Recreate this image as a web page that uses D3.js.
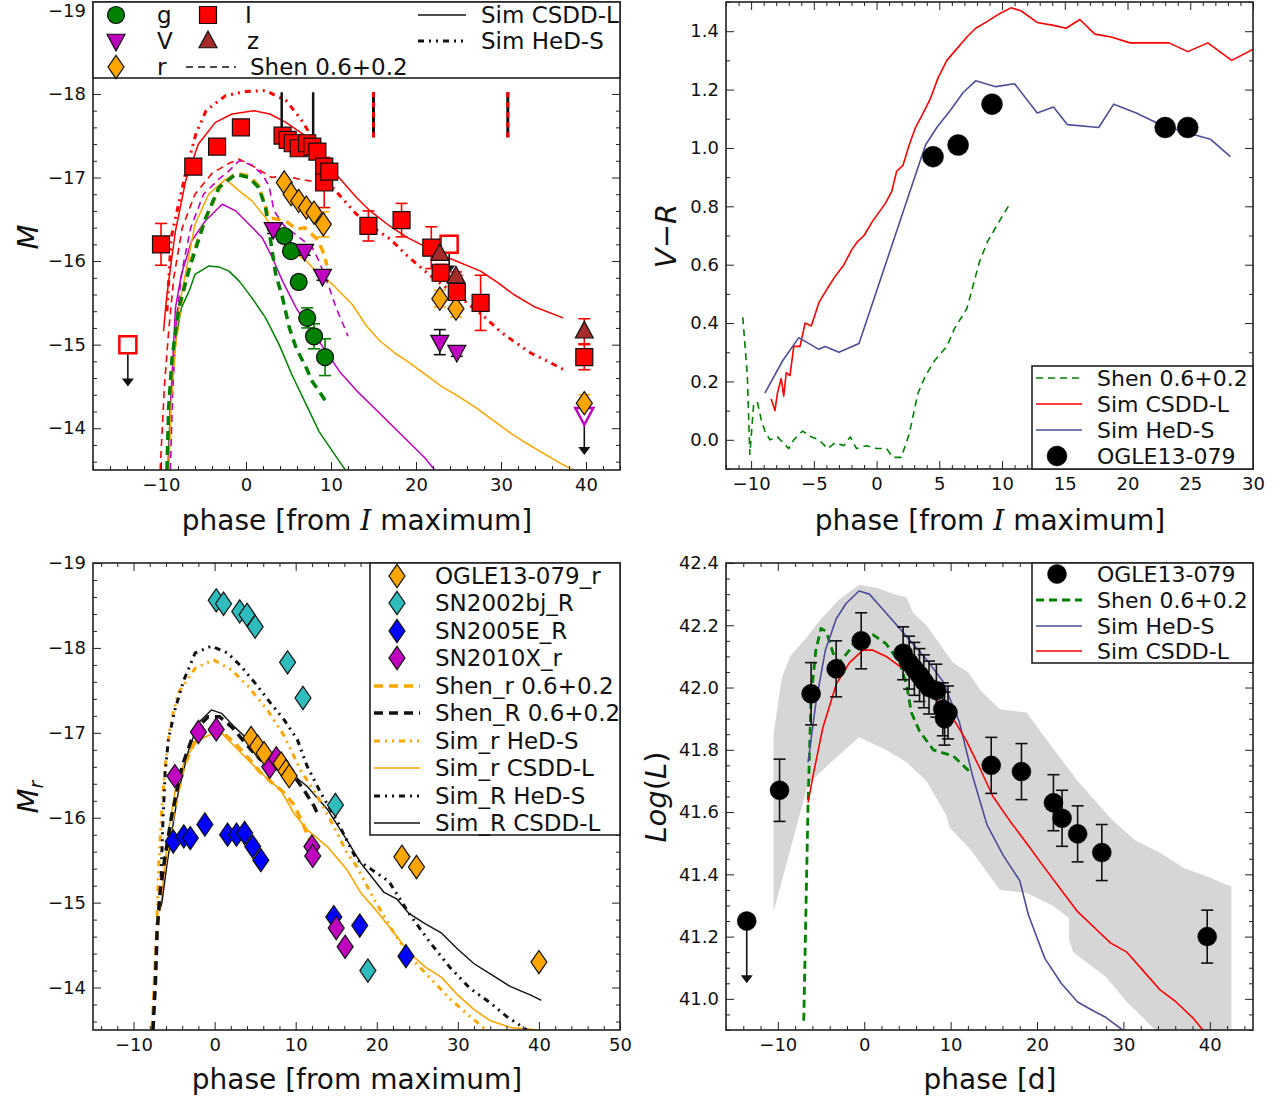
<!DOCTYPE html>
<html><head><meta charset="utf-8">
<script src="https://cdn.jsdelivr.net/npm/d3@7"></script>
<style>
body{margin:0;background:#fff}
text{font-family:"DejaVu Sans",sans-serif;fill:#111}
</style></head>
<body><svg id="c" width="1287" height="1099"></svg>
<script>
// ================= DATA =================
// ---- Top-left: light curves (phase, M, err) ----
const tlI = [[-10,-16.2,0.25],[-6.2,-17.13,0],[-3.4,-17.37,0],[-0.6,-17.6,0],[4.3,-17.5,0],[4.9,-17.45,0],[5.5,-17.41,0],[6.2,-17.35,0],[7.2,-17.41,0],[7.8,-17.37,0],[8.4,-17.31,0],[9.2,-17.13,0],[9.2,-16.94,0.3],[9.8,-17.07,0],[14.4,-16.42,0.18],[18.3,-16.49,0.2],[21.8,-16.16,0.25],[22.9,-15.86,0.1],[24.8,-15.63,0.2],[27.6,-15.5,0.33],[39.8,-14.85,0.15]];
const tlIlim = [[-13.9,-15.0,-14.5],[23.9,-16.2,-15.85]];
const tlZ = [[22.8,-16.09,0.05],[24.7,-15.82,0.05],[39.8,-15.16,0.15]];
const tlV = [[3.2,-16.38,0.05],[6.9,-16.12,0.05],[9.0,-15.82,0.05],[22.8,-15.03,0.15],[24.8,-14.91,0.05]];
const tlVlim = [[39.8,-14.16,-13.68]];
const tlG = [[4.5,-16.3,0],[5.3,-16.12,0],[6.2,-15.75,0],[7.2,-15.32,0.12],[8.0,-15.1,0.15],[9.3,-14.85,0.22]];
const tlR = [[4.5,-16.94,0],[5.3,-16.8,0],[6.2,-16.72,0],[7.1,-16.64,0],[8.0,-16.58,0],[9.1,-16.44,0.15],[22.8,-15.55,0.1],[24.7,-15.43,0.1],[39.8,-14.3,0.1]];
const tlSpecSolid = [4.2, 7.9];
const tlSpecDash = [15.0, 30.8];
const tlSimCsddI = [[-9.7,-15.16],[-9.4,-15.5],[-9.1,-15.76],[-8.3,-16.36],[-7.1,-16.96],[-5.6,-17.4],[-3.6,-17.66],[-1.65,-17.76],[0.9,-17.8],[2.8,-17.76],[4.7,-17.66],[6.7,-17.52],[9,-17.31],[10.6,-17.04],[13,-16.76],[14.6,-16.6],[16.9,-16.42],[19,-16.28],[21.3,-16.16],[24,-16.03],[27.6,-15.88],[29.5,-15.75],[31.5,-15.6],[34,-15.45],[37.3,-15.32]];
const tlHedsI = [[-9.3,-15.4],[-8.8,-16.28],[-8.2,-16.56],[-7,-17.1],[-5.9,-17.52],[-4.7,-17.8],[-2.4,-17.98],[0,-18.03],[2.3,-18.04],[4.7,-17.92],[6.3,-17.72],[8,-17.45],[9.2,-17.15],[10.2,-16.88],[11.6,-16.72],[13,-16.56],[15,-16.4],[17,-16.26],[19,-16.06],[21.3,-15.86],[23,-15.72],[25,-15.58],[27,-15.42],[28.4,-15.3],[30,-15.15],[31.5,-15.04],[33.5,-14.9],[35.5,-14.8],[37.4,-14.7]];
const tlShenI = [[-10.1,-13.5],[-9.6,-14.5],[-9.1,-15.16],[-8.5,-15.8],[-7.5,-16.4],[-6,-16.8],[-4,-17.05],[-2,-17.17],[-0.8,-17.22],[1.1,-17.12],[3,-17.0],[4.5,-17.02],[6.3,-16.98],[8,-16.95],[10.2,-16.86],[11,-16.78]];
const tlShenV = [[-8.9,-13.5],[-8.6,-14.5],[-8.2,-15.3],[-7.5,-15.9],[-6.5,-16.4],[-5,-16.8],[-3.2,-16.98],[-2,-17.08],[-0.8,-17.2],[0.7,-17.15],[1.9,-17.04],[2.7,-16.9],[3.3,-16.6],[4.5,-16.42],[6.3,-16.28],[7.8,-16.16],[8.6,-16.0],[9.8,-15.68],[10.6,-15.44],[11.4,-15.25],[12,-15.1]];
const tlShenG = [[-9.3,-13.5],[-9.1,-14.24],[-8.7,-14.84],[-7.9,-15.44],[-6.7,-15.9],[-4.8,-16.5],[-3.2,-16.88],[-1.2,-17.04],[0.35,-17.0],[1.5,-16.88],[2.3,-16.64],[2.9,-16.24],[3.5,-15.84],[4.3,-15.56],[5.1,-15.2],[5.9,-14.96],[7.1,-14.72],[7.8,-14.56],[9.2,-14.35],[9.6,-14.3]];
const tlShenR = [[-9.2,-13.5],[-9.0,-14.2],[-8.5,-14.9],[-7.7,-15.5],[-6.5,-16.0],[-4.8,-16.5],[-3,-16.9],[-1.2,-17.05],[0.3,-17.02],[1.5,-16.9],[2.7,-16.52],[4.7,-16.48],[5.9,-16.38],[6.9,-16.4],[8.4,-16.26],[9.2,-16.08],[9.5,-15.95]];
const tlSimR = [[-9.1,-13.5],[-8.8,-14.3],[-8.3,-15.0],[-7.9,-15.44],[-6,-16.44],[-4.4,-16.8],[-2.4,-16.98],[-0.8,-16.84],[0.7,-16.72],[2.3,-16.52],[3.9,-16.28],[5.4,-16.12],[7.1,-16.0],[8.6,-15.84],[10.2,-15.72],[12.5,-15.48],[14.2,-15.22],[15.7,-15.05],[17.5,-14.9],[19,-14.8],[21,-14.65],[23,-14.5],[25,-14.38],[27,-14.25],[29,-14.1],[31,-13.95],[33,-13.82],[35,-13.7],[37,-13.58],[38.5,-13.5]];
const tlSimV = [[-9.1,-13.5],[-8.9,-14.24],[-8.3,-15.44],[-7.6,-15.84],[-6.4,-16.24],[-4.8,-16.48],[-2.8,-16.68],[-1.2,-16.6],[0.35,-16.44],[1.9,-16.28],[3.1,-16.04],[4.3,-15.76],[5.9,-15.44],[7.1,-15.25],[8.6,-15.04],[11,-14.68],[13,-14.45],[15,-14.25],[17,-14.05],[19,-13.85],[21,-13.65],[22.2,-13.5]];
const tlSimG = [[-9.2,-13.5],[-8.9,-14.24],[-8.3,-15.04],[-7.6,-15.44],[-6.7,-15.64],[-6,-15.84],[-4.4,-15.94],[-3.2,-15.93],[-2,-15.88],[-0.8,-15.76],[0.7,-15.56],[2.3,-15.32],[3.9,-15.0],[5.4,-14.64],[7.1,-14.28],[8.6,-13.96],[10.2,-13.72],[11,-13.6],[11.7,-13.5]];

// ---- Top-right: V-R colour ----
const trCsdd = [[-8.4,0.14],[-8.1,0.10],[-7.9,0.16],[-7.6,0.21],[-7.4,0.15],[-7.2,0.23],[-6.9,0.22],[-6.6,0.32],[-6.1,0.32],[-5.7,0.40],[-5.2,0.39],[-4.6,0.47],[-3.9,0.52],[-3.3,0.56],[-2.6,0.60],[-2.0,0.65],[-1.5,0.68],[-1.0,0.70],[-0.3,0.75],[0.2,0.78],[0.7,0.81],[1.2,0.85],[1.6,0.92],[2.1,0.94],[2.6,1.01],[3.1,1.07],[3.6,1.11],[4.3,1.17],[4.9,1.24],[5.6,1.30],[6.2,1.33],[7.2,1.38],[7.9,1.41],[8.7,1.43],[9.8,1.46],[10.7,1.48],[11.5,1.47],[12.8,1.43],[14.1,1.42],[15.1,1.41],[16.2,1.44],[17.4,1.39],[18.7,1.38],[20.2,1.36],[22.3,1.36],[23.3,1.36],[24.8,1.33],[26.4,1.36],[28.3,1.30],[30.1,1.34]];
const trHeds = [[-8.9,0.16],[-7.5,0.27],[-6.2,0.35],[-4.6,0.31],[-4.1,0.32],[-3.0,0.30],[-1.4,0.33],[3.9,1.01],[4.8,1.07],[5.9,1.13],[6.9,1.19],[7.9,1.23],[9.5,1.21],[11,1.22],[12.8,1.12],[14.1,1.14],[15.2,1.08],[17.7,1.07],[18.9,1.15],[20.7,1.12],[22.6,1.08],[24.9,1.05],[26.6,1.03],[28.2,0.97]];
const trShen = [[-10.66,0.42],[-10.3,0.22],[-10.1,-0.05],[-9.8,0.12],[-9.5,0.13],[-9.2,0.07],[-8.9,0.03],[-8.5,0.0],[-7.9,0.01],[-7.0,-0.03],[-6.6,0.0],[-5.9,0.03],[-5.2,0.01],[-4.6,0.0],[-3.9,-0.03],[-3.3,-0.01],[-2.6,-0.02],[-2.1,0.01],[-1.6,-0.03],[-0.8,-0.02],[0,-0.03],[0.8,-0.03],[1.3,-0.06],[1.97,-0.06],[2.6,0.02],[3.3,0.16],[3.9,0.22],[4.6,0.27],[5.6,0.32],[6.2,0.38],[7.2,0.45],[8.2,0.61],[8.85,0.68],[9.8,0.75],[10.5,0.80]];
const trOgle = [[4.5,0.97],[6.5,1.01],[9.2,1.15],[23.0,1.07],[24.8,1.07]];

// ---- Bottom-left: r/R comparison ----
const blOgle = [[4.5,-16.94],[5.3,-16.84],[6.1,-16.76],[8.2,-16.64],[8.8,-16.55],[9.2,-16.49],[23.1,-15.54],[24.9,-15.42],[40,-14.3]];
const blSN02bj = [[0.2,-18.56],[1.1,-18.52],[3.1,-18.43],[4.0,-18.39],[5.0,-18.25],[9.0,-17.83],[10.9,-17.41],[14.9,-16.15],[18.9,-14.2]];
const blSN05E = [[-5.1,-15.72],[-3.8,-15.78],[-3.0,-15.76],[-1.2,-15.92],[1.6,-15.8],[2.7,-15.8],[3.7,-15.82],[4.7,-15.66],[5.7,-15.5],[14.7,-14.83],[17.9,-14.73],[23.6,-14.37]];
const blSN10X = [[-4.9,-16.49],[-2.0,-17.01],[0.2,-17.04],[6.8,-16.6],[7.6,-16.7],[12.0,-15.66],[12.1,-15.55],[15.0,-14.7],[16.1,-14.48]];
const blShenr = [[-7.7,-13.5],[-7.4,-14.1],[-7.1,-14.7],[-6.6,-15.2],[-5.9,-15.6],[-5.0,-16.1],[-3.8,-16.6],[-2.2,-16.95],[-0.5,-17.05],[1,-17.0],[2.5,-16.88],[4,-16.72],[5.5,-16.55],[7,-16.42],[8.5,-16.3],[9.8,-16.15],[10.8,-15.95],[11.8,-15.72]];
const blShenR = [[-7.6,-13.5],[-7.3,-14.06],[-7.1,-14.65],[-6.7,-15.15],[-6.1,-15.55],[-5.3,-16.02],[-4.0,-16.61],[-2.4,-17.04],[-0.8,-17.19],[0.6,-17.19],[2.1,-17.07],[4.5,-16.8],[5.7,-16.68],[7.7,-16.6],[9.8,-16.49],[11,-16.33],[12.3,-16.13],[12.7,-16.05]];
const blSimrHeds = [[-7.1,-14.84],[-6.9,-15.43],[-6.5,-16.13],[-6.1,-16.6],[-5.5,-17.07],[-4.5,-17.47],[-2.4,-17.76],[-0.15,-17.86],[2.1,-17.74],[4.1,-17.55],[6.5,-17.27],[8.6,-16.96],[10.6,-16.56],[12.7,-16.25],[14.7,-15.9],[16.3,-15.59],[17.5,-15.43],[19.9,-15.0],[22,-14.66],[24,-14.37],[26.5,-14.12],[29,-13.87],[31.5,-13.66],[33.5,-13.5]];
const blSimrCsdd = [[-6.6,-14.95],[-6.2,-15.4],[-5.6,-15.9],[-4.8,-16.35],[-3.6,-16.7],[-2.2,-16.9],[-0.5,-16.98],[0.85,-17.0],[3.3,-16.76],[5.7,-16.53],[8.2,-16.32],[9.8,-16.05],[11.4,-15.86],[13.9,-15.66],[16.3,-15.39],[18,-15.12],[20,-14.9],[22,-14.66],[24,-14.41],[26,-14.24],[28,-14.12],[30,-13.91],[32,-13.74],[34,-13.61],[36.5,-13.53],[40,-13.5]];
const blSimRHeds = [[-6.6,-15.3],[-6.4,-15.9],[-6.1,-16.53],[-5.7,-16.92],[-4.9,-17.27],[-3.8,-17.62],[-2.4,-17.94],[-0.4,-18.02],[1.6,-17.94],[3.3,-17.78],[5.3,-17.55],[6.9,-17.35],[8.6,-17.15],[10.2,-16.92],[11.4,-16.61],[13.1,-16.29],[15,-15.98],[17.5,-15.51],[19.5,-15.38],[21.5,-15.25],[24,-14.87],[26.5,-14.54],[29,-14.24],[31.5,-13.99],[34,-13.82],[36,-13.66],[38.5,-13.5]];
const blSimRCsdd = [[-6.8,-14.9],[-6.5,-15.0],[-5.9,-15.43],[-5.3,-15.82],[-4.5,-16.29],[-3.2,-16.8],[-2.0,-17.12],[-0.4,-17.27],[0.85,-17.23],[2.45,-17.07],[4.1,-16.92],[6.5,-16.76],[9.0,-16.56],[11.4,-16.37],[13.9,-16.1],[16.3,-15.74],[18,-15.47],[20.9,-15.12],[22.5,-15.04],[24,-14.87],[26,-14.75],[28,-14.64],[30,-14.45],[32,-14.28],[34,-14.16],[36.5,-14.01],[39,-13.91],[40.3,-13.85]];

// ---- Bottom-right: bolometric ----
const brOgle = [[-9.8,41.67,0.1],[-6.15,41.98,0.1],[-3.25,42.06,0.09],[-0.35,42.15,0.09],[4.5,42.11,0.085],[5.2,42.08,0.085],[5.8,42.06,0.085],[6.4,42.04,0.085],[6.9,42.02,0.085],[7.5,42.0,0.085],[8.35,41.99,0.085],[9.1,41.93,0.085],[9.3,41.9,0.085],[9.7,41.92,0.085],[14.7,41.75,0.09],[18.2,41.73,0.09],[21.9,41.63,0.09],[22.9,41.58,0.09],[24.7,41.53,0.09],[27.5,41.47,0.09],[39.7,41.2,0.085]];
const brLim = [[-13.6,41.25,41.05]];
const brHeds = [[-6.5,41.76],[-5.6,41.95],[-4.5,42.12],[-3.25,42.22],[-2.1,42.27],[-0.6,42.31],[0.6,42.3],[2.2,42.25],[4.1,42.19],[5.65,42.14],[7.2,42.09],[9.1,42.02],[11,41.89],[12.6,41.71],[14.2,41.56],[16.1,41.46],[18,41.38],[19,41.27],[20.9,41.13],[22.8,41.05],[24.7,40.99],[26.6,40.96],[28,40.94],[29.9,40.9]];
const brCsdd = [[-6.5,41.63],[-5.9,41.72],[-4.8,41.87],[-3.25,42.01],[-1.7,42.08],[-0.15,42.12],[1.0,42.12],[2.55,42.1],[4.5,42.06],[6.4,42.02],[8.35,41.96],[10.3,41.9],[11.8,41.83],[13.4,41.74],[14.9,41.65],[16.9,41.57],[18.8,41.5],[20.9,41.42],[22.8,41.35],[24.7,41.28],[26.6,41.23],[28.5,41.18],[30.4,41.15],[32.3,41.09],[34.2,41.03],[36.1,40.99],[38,40.94],[39.2,40.9]];
const brShen = [[-7.0,40.93],[-6.5,41.63],[-6.15,41.97],[-5.6,42.12],[-5.0,42.19],[-4.4,42.18],[-3.6,42.11],[-2.9,42.08],[-1.7,42.12],[-0.6,42.17],[1.0,42.17],[2.55,42.14],[4.1,42.08],[4.9,42.01],[5.45,41.92],[6.4,41.86],[8.0,41.8],[9.1,41.79],[10.3,41.78],[11.45,41.75],[12.2,41.73]];
const brBandUpper = [[-10.5,41.85],[-9.55,42.03],[-8.6,42.1],[-6.7,42.16],[-5,42.22],[-3,42.28],[-0.6,42.33],[1.5,42.32],[3.5,42.3],[4.9,42.29],[5.65,42.24],[7.2,42.2],[9.5,42.11],[10.3,42.08],[12,42.05],[13.5,41.99],[15.7,41.93],[18.8,41.92],[20.9,41.84],[22.8,41.77],[24.7,41.7],[26.6,41.64],[28.5,41.58],[31.3,41.51],[34.2,41.47],[37,41.42],[40,41.39],[42.5,41.36],[42.5,40.9]];
const brBandLower = [[-10.5,41.28],[-6.5,41.69],[-3.85,41.76],[-0.6,41.84],[2.5,41.8],[4.9,41.76],[7.2,41.7],[9.5,41.59],[9.9,41.55],[12.3,41.48],[14.9,41.38],[15.7,41.35],[18.8,41.34],[21.8,41.3],[23.7,41.26],[23.7,41.19],[24.2,41.15],[25.6,41.12],[28,41.07],[30.4,40.99],[33.7,40.9]];

// tick values
const tlXT = [-10,0,10,20,30,40], tlYT = [-19,-18,-17,-16,-15,-14];
const trXT = [-10,-5,0,5,10,15,20,25,30], trYT = [0.0,0.2,0.4,0.6,0.8,1.0,1.2,1.4];
const blXT = [-10,0,10,20,30,40,50], blYT = [-19,-18,-17,-16,-15,-14];
const brXT = [-10,0,10,20,30,40], brYT = [41.0,41.2,41.4,41.6,41.8,42.0,42.2,42.4];

// ================= DRAWING =================
const svg = d3.select('#c');
const RED='#ff0000', GREEN='#008000', MAG='#bf00bf', ORG='#ffa500', BROWN='#a52a2a', SLATE='#4d4d99', CYAN='#2fbcbc', BLUE='#0000ff';
const DOTDASH='6,5,2,5,2,5';
const LEGFS=23, LEGFS_R=22, TICKFS=18;

function range(a,b,s){const o=[];for(let v=a;v<=b+1e-9;v+=s)o.push(+v.toFixed(4));return o;}

function panel(c){
  const x=d3.scaleLinear().domain(c.xd).range([c.l,c.r]);
  const y=d3.scaleLinear().domain(c.yd).range([c.b,c.t]);
  const id='clip'+c.id;
  svg.append('clipPath').attr('id',id).append('rect').attr('x',c.l).attr('y',c.t).attr('width',c.r-c.l).attr('height',c.b-c.t);
  const g=svg.append('g');
  const plot=g.append('g').attr('clip-path',`url(#${id})`);
  const marks=g.append('g');
  function axes(){
    const ag=g.append('g');
    const strip=s=>s.select('.domain').remove();
    const minX=range(Math.ceil(c.xd[0]/c.xm)*c.xm, c.xd[1], c.xm).filter(v=>!c.xt.some(t=>Math.abs(t-v)<1e-6));
    const yl=Math.min(c.yd[0],c.yd[1]), yh=Math.max(c.yd[0],c.yd[1]);
    const minY=range(Math.ceil(yl/c.ym-1e-6)*c.ym, yh, c.ym).filter(v=>!c.yt.some(t=>Math.abs(t-v)<1e-6));
    ag.append('g').attr('transform',`translate(0,${c.b})`).call(d3.axisBottom(x).tickValues(c.xt).tickSize(-8).tickPadding(8).tickFormat(c.xf)).call(strip);
    ag.append('g').attr('transform',`translate(0,${c.b})`).call(d3.axisBottom(x).tickValues(minX).tickSize(-4).tickFormat('')).call(strip);
    ag.append('g').attr('transform',`translate(0,${c.t})`).call(d3.axisTop(x).tickValues(c.xt).tickSize(-8).tickFormat('')).call(strip);
    ag.append('g').attr('transform',`translate(0,${c.t})`).call(d3.axisTop(x).tickValues(minX).tickSize(-4).tickFormat('')).call(strip);
    ag.append('g').attr('transform',`translate(${c.l},0)`).call(d3.axisLeft(y).tickValues(c.yt).tickSize(-8).tickPadding(7).tickFormat(c.yf)).call(strip);
    ag.append('g').attr('transform',`translate(${c.l},0)`).call(d3.axisLeft(y).tickValues(minY).tickSize(-4).tickFormat('')).call(strip);
    ag.append('g').attr('transform',`translate(${c.r},0)`).call(d3.axisRight(y).tickValues(c.yt).tickSize(-8).tickFormat('')).call(strip);
    ag.append('g').attr('transform',`translate(${c.r},0)`).call(d3.axisRight(y).tickValues(minY).tickSize(-4).tickFormat('')).call(strip);
    ag.selectAll('.tick line').attr('stroke','#222').attr('stroke-width',1);
    ag.selectAll('.tick text').attr('font-size',TICKFS).attr('font-family','DejaVu Sans').attr('fill','#111');
    g.append('rect').attr('x',c.l).attr('y',c.t).attr('width',c.r-c.l).attr('height',c.b-c.t).attr('fill','none').attr('stroke','#222').attr('stroke-width',1.6);
  }
  return {x,y,g,plot,marks,axes,c};
}

function line(P,data,color,w,dash){
  P.plot.append('path').datum(data).attr('d',d3.line().x(d=>P.x(d[0])).y(d=>P.y(d[1])))
   .attr('fill','none').attr('stroke',color).attr('stroke-width',w).attr('stroke-dasharray',dash||null).attr('stroke-linejoin','round');
}
function shapePath(shape,s){
  switch(shape){
    case 'square': return `M${-s},${-s}H${s}V${s}H${-s}Z`;
    case 'tri': return `M0,${-s*1.1}L${s},${s*0.75}L${-s},${s*0.75}Z`;
    case 'tridown': return `M0,${s*1.1}L${s},${-s*0.75}L${-s},${-s*0.75}Z`;
    case 'diamond': return `M0,${-s*1.45}L${s},0L0,${s*1.45}L${-s},0Z`;
    default: return d3.symbol(d3.symbolCircle, Math.PI*s*s)();
  }
}
function errbars(P,data,color,cap){
  const e=data.filter(d=>d[2]>0);
  const gg=P.marks.append('g').attr('stroke',color).attr('stroke-width',1.6);
  gg.selectAll(null).data(e).join('line').attr('x1',d=>P.x(d[0])).attr('x2',d=>P.x(d[0])).attr('y1',d=>P.y(d[1]-d[2])).attr('y2',d=>P.y(d[1]+d[2]));
  [1,-1].forEach(sg=>gg.selectAll(null).data(e).join('line').attr('x1',d=>P.x(d[0])-cap).attr('x2',d=>P.x(d[0])+cap).attr('y1',d=>P.y(d[1]+sg*d[2])).attr('y2',d=>P.y(d[1]+sg*d[2])));
}
function points(P,data,shape,s,fill,stroke,sw){
  P.marks.append('g').selectAll(null).data(data).join('path')
   .attr('transform',d=>`translate(${P.x(d[0])},${P.y(d[1])})`).attr('d',shapePath(shape,s))
   .attr('fill',fill).attr('stroke',stroke).attr('stroke-width',sw==null?1.2:sw);
}
function arrows(P,data){
  const gg=P.marks.append('g');
  gg.selectAll(null).data(data).join('line').attr('x1',d=>P.x(d[0])).attr('x2',d=>P.x(d[0])).attr('y1',d=>P.y(d[1])).attr('y2',d=>P.y(d[2])-6).attr('stroke','#111').attr('stroke-width',1.6);
  gg.selectAll(null).data(data).join('path').attr('transform',d=>`translate(${P.x(d[0])},${P.y(d[2])})`).attr('d','M-6,-8L6,-8L0,0Z').attr('fill','#111');
}
function legendBox(x,y,w,h){svg.append('rect').attr('x',x).attr('y',y).attr('width',w).attr('height',h).attr('fill','#fff').attr('stroke','#222').attr('stroke-width',1.6);}
function legText(x,y,s,fs){svg.append('text').attr('x',x).attr('y',y).attr('dy','0.36em').attr('font-size',fs||LEGFS).text(s);}
function legLine(x1,x2,y,color,w,dash){svg.append('line').attr('x1',x1).attr('x2',x2).attr('y1',y).attr('y2',y).attr('stroke',color).attr('stroke-width',w).attr('stroke-dasharray',dash||null);}
function legMark(x,y,shape,s,fill,stroke,sw){svg.append('path').attr('transform',`translate(${x},${y})`).attr('d',shapePath(shape,s)).attr('fill',fill).attr('stroke',stroke).attr('stroke-width',sw==null?1.2:sw);}

const fInt=d3.format('d'), f1=d3.format('.1f');

// ---------- TOP LEFT ----------
const TL=panel({id:'tl',l:93,r:620,t:2,b:470,xd:[-18,44],yd:[-13.5,-19.1],xt:tlXT,yt:tlYT,xm:2,ym:0.2,xf:fInt,yf:fInt});
line(TL,tlSimG,GREEN,1.5);
line(TL,tlSimV,MAG,1.5);
line(TL,tlSimR,ORG,1.5);
line(TL,tlSimCsddI,RED,1.5);
line(TL,tlHedsI,RED,3,DOTDASH);
line(TL,tlShenI,RED,1.6,'7,5');
line(TL,tlShenV,MAG,1.6,'7,5');
line(TL,tlShenR,ORG,3.5,'9,6');
line(TL,tlShenG,GREEN,3.5,'9,6');
TL.marks.selectAll(null).data(tlSpecSolid).join('line').attr('x1',d=>TL.x(d)).attr('x2',d=>TL.x(d)).attr('y1',TL.y(-18.02)).attr('y2',TL.y(-17.48)).attr('stroke','#111').attr('stroke-width',2.5);
TL.marks.selectAll(null).data(tlSpecDash).join('line').attr('x1',d=>TL.x(d)).attr('x2',d=>TL.x(d)).attr('y1',TL.y(-18.02)).attr('y2',TL.y(-17.48)).attr('stroke','#111').attr('stroke-width',3);
TL.marks.selectAll(null).data(tlSpecDash).join('line').attr('x1',d=>TL.x(d)).attr('x2',d=>TL.x(d)).attr('y1',TL.y(-18.02)).attr('y2',TL.y(-17.48)).attr('stroke',RED).attr('stroke-width',3).attr('stroke-dasharray','5,5');
errbars(TL,tlI,RED,6); errbars(TL,tlG,GREEN,6); errbars(TL,tlV,'#111',6); errbars(TL,tlZ,RED,6); errbars(TL,tlR,ORG,6);
arrows(TL,tlIlim); arrows(TL,tlVlim);
points(TL,tlIlim,'square',8.5,'#fff',RED,2.5);
points(TL,tlVlim,'tridown',9,'#fff',MAG,2.5);
points(TL,tlR,'diamond',8,ORG,'#111');
points(TL,tlG,'circle',8.5,GREEN,'#111');
points(TL,tlV,'tridown',9,MAG,'#111');
points(TL,tlI,'square',8.5,RED,'#111');
points(TL,tlZ,'tri',9,BROWN,'#111');
TL.axes();
legendBox(93,2,527,76);
legMark(116,15,'circle',8.5,GREEN,'#111'); legText(157,15,'g');
legMark(208,15,'square',8.5,RED,'#111'); legText(245,15,'I');
legMark(116,41,'tridown',9,MAG,'#111'); legText(157,41,'V');
legMark(208,41,'tri',9,BROWN,'#111'); legText(247,41,'z');
legMark(116,67,'diamond',8,ORG,'#111'); legText(157,67,'r');
legLine(186,236,67,'#111',1.6,'7,5'); legText(250,67,'Shen 0.6+0.2');
legLine(418,466,15,'#111',1.6); legText(481,15,'Sim CSDD-L');
legLine(418,466,41,'#111',3,DOTDASH); legText(481,41,'Sim HeD-S');

// ---------- TOP RIGHT ----------
const TR=panel({id:'tr',l:726,r:1253,t:2,b:469,xd:[-12,30],yd:[-0.1,1.5],xt:trXT,yt:trYT,xm:1,ym:0.1,xf:fInt,yf:f1});
line(TR,trShen,GREEN,1.6,'7,5');
line(TR,trCsdd,RED,1.6);
line(TR,trHeds,SLATE,1.6);
points(TR,trOgle,'circle',10.5,'#000','#000',0.5);
TR.axes();
legendBox(1032,366,221,103);
legLine(1036,1082,378,GREEN,1.6,'7,5'); legText(1097,378,'Shen 0.6+0.2',LEGFS_R);
legLine(1036,1082,404,RED,1.6); legText(1097,404,'Sim CSDD-L',LEGFS_R);
legLine(1036,1082,430,SLATE,1.6); legText(1097,430,'Sim HeD-S',LEGFS_R);
legMark(1057,456,'circle',10,'#000','#000',0.5); legText(1097,456,'OGLE13-079',LEGFS_R);

// ---------- BOTTOM LEFT ----------
const BL=panel({id:'bl',l:93,r:620,t:563,b:1030,xd:[-15,50],yd:[-13.5,-19],xt:blXT,yt:blYT,xm:2,ym:0.2,xf:fInt,yf:fInt});
line(BL,blSimrCsdd,ORG,1.6);
line(BL,blSimRCsdd,'#111',1.4);
line(BL,blSimrHeds,ORG,3,DOTDASH);
line(BL,blSimRHeds,'#111',3,DOTDASH);
line(BL,blShenr,ORG,3.5,'9,6');
line(BL,blShenR,'#111',3.5,'9,6');
points(BL,blSN02bj,'diamond',8,CYAN,'#111');
points(BL,blSN05E,'diamond',8,BLUE,'#111');
points(BL,blSN10X,'diamond',8,MAG,'#111');
points(BL,blOgle,'diamond',8,ORG,'#111');
BL.axes();
legendBox(370,563,250,272);
const blLegY=[576,603,631,658,686,713,741,768,796,823];
legMark(397,blLegY[0],'diamond',8,ORG,'#111'); legText(435,blLegY[0],'OGLE13-079_r');
legMark(397,blLegY[1],'diamond',8,CYAN,'#111'); legText(435,blLegY[1],'SN2002bj_R');
legMark(397,blLegY[2],'diamond',8,BLUE,'#111'); legText(435,blLegY[2],'SN2005E_R');
legMark(397,blLegY[3],'diamond',8,MAG,'#111'); legText(435,blLegY[3],'SN2010X_r');
legLine(374,420,blLegY[4],ORG,3.5,'9,6'); legText(435,blLegY[4],'Shen_r 0.6+0.2');
legLine(374,420,blLegY[5],'#111',3.5,'9,6'); legText(435,blLegY[5],'Shen_R 0.6+0.2');
legLine(374,420,blLegY[6],ORG,3,DOTDASH); legText(435,blLegY[6],'Sim_r HeD-S');
legLine(374,420,blLegY[7],ORG,1.6); legText(435,blLegY[7],'Sim_r CSDD-L');
legLine(374,420,blLegY[8],'#111',3,DOTDASH); legText(435,blLegY[8],'Sim_R HeD-S');
legLine(374,420,blLegY[9],'#111',1.4); legText(435,blLegY[9],'Sim_R CSDD-L');

// ---------- BOTTOM RIGHT ----------
const BR=panel({id:'br',l:726,r:1253,t:563,b:1030,xd:[-16,45],yd:[40.9,42.4],xt:brXT,yt:brYT,xm:2,ym:0.05,xf:fInt,yf:f1});
const bandGen=d3.line().x(d=>BR.x(d[0])).y(d=>BR.y(d[1]));
BR.plot.append('path').datum(brBandUpper.concat(brBandLower.slice().reverse()))
  .attr('d',d=>bandGen(d)+'Z').attr('fill','#d6d6d6').attr('stroke','none');
line(BR,brShen,GREEN,2.8,'8,5');
line(BR,brHeds,SLATE,1.6);
line(BR,brCsdd,RED,1.6);
errbars(BR,brOgle,'#111',6);
arrows(BR,brLim);
points(BR,brOgle,'circle',9.5,'#000','#000',0.5);
points(BR,brLim,'circle',9.5,'#000','#000',0.5);
BR.axes();
legendBox(1032,563,221,100);
legMark(1057,574,'circle',9.5,'#000','#000',0.5); legText(1097,574,'OGLE13-079',LEGFS_R);
legLine(1036,1082,600,GREEN,2.8,'8,5'); legText(1097,600,'Shen 0.6+0.2',LEGFS_R);
legLine(1036,1082,626,SLATE,1.6); legText(1097,626,'Sim HeD-S',LEGFS_R);
legLine(1036,1082,651,RED,1.6); legText(1097,651,'Sim CSDD-L',LEGFS_R);

// ---------- AXIS LABELS ----------
function xlabel(cx,y,parts){
  const t=svg.append('text').attr('x',cx).attr('y',y).attr('text-anchor','middle').attr('font-size',28);
  parts.forEach(p=>{const s=t.append('tspan').text(p[0]); if(p[1]){s.attr('font-family','DejaVu Serif').attr('font-style','italic');}});
}
xlabel(357,530,[['phase [from '],['I',1],[' maximum]']]);
xlabel(990,530,[['phase [from '],['I',1],[' maximum]']]);
xlabel(357,1089,[['phase [from maximum]']]);
xlabel(990,1089,[['phase [d]']]);

function ylab(x,y,parts){
  const t=svg.append('text').attr('transform',`translate(${x},${y}) rotate(-90)`).attr('text-anchor','middle').attr('font-size',29).attr('font-family','DejaVu Serif').attr('font-style','italic');
  parts.forEach(p=>{const s=t.append('tspan').text(p[0]); if(p[1]==='sub'){s.attr('font-size',19).attr('baseline-shift','-25%');} if(p[1]==='up'){s.attr('font-style','normal');}});
}
ylab(38,237,[['M']]);
ylab(676,236,[['V'],['−','up'],['R']]);
ylab(38,797,[['M'],['r','sub']]);
ylab(666,797,[['Log'],['(','up'],['L'],[')','up']]);
</script></body></html>
